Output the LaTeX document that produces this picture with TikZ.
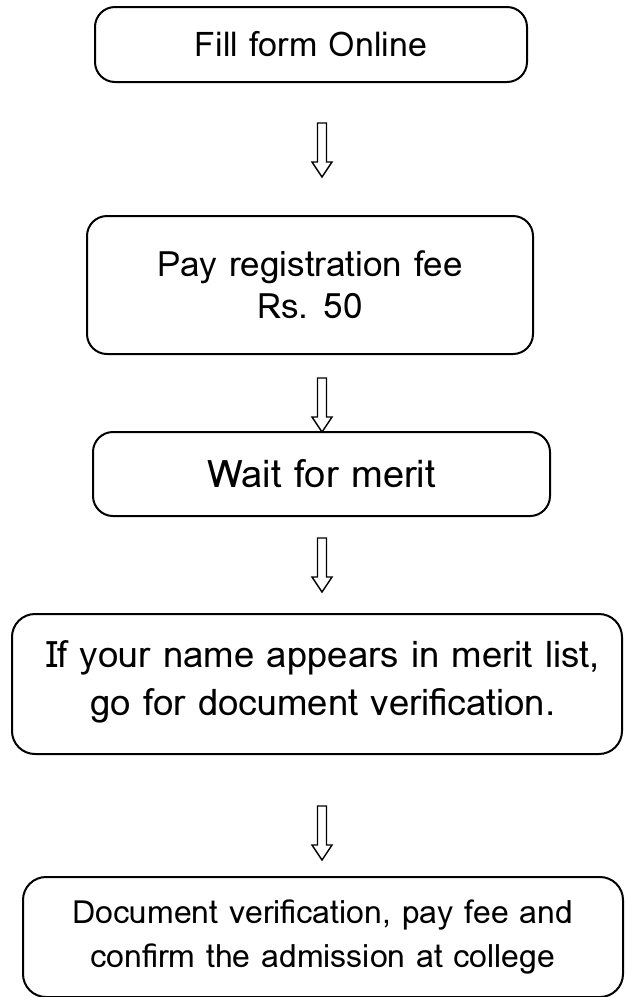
\documentclass[tikz,border=0pt]{standalone}
\usepackage{fontspec}
\setmainfont{Loma}
\begin{document}
\begin{tikzpicture}[x=1pt,y=-1pt,
  stepbox/.style={draw=black, line width=2pt, rounded corners=20pt, inner sep=0pt, align=center, anchor=center},
  steptext/.style={inner sep=0pt, align=center, anchor=center},
  hollowarrow/.pic={\draw[line width=1.4pt, line join=miter] (-4.5,0) -- (4.5,0) -- (4.5,39) -- (10,39) -- (0,54) -- (-10,39) -- (-4.5,39) -- cycle;}
]
\useasboundingbox (0,0) rectangle (625,997);
\node[stepbox, minimum width=432pt, minimum height=75pt, font=\fontsize{34}{40}\selectfont] (b1) at (311,44.5) {Fill form Online};
\node[stepbox, minimum width=446pt, minimum height=138pt, font=\fontsize{35}{42}\selectfont] (b2) at (310,285) {Pay registration fee\\Rs. 50};
\node[stepbox, minimum width=457pt, minimum height=84pt, font=\fontsize{38}{40}\selectfont] (b3) at (321.5,474) {Wait for merit};
\node[stepbox, rounded corners=23pt, minimum width=610pt, minimum height=140pt] (b4) at (317,684) {};
\node[steptext, font=\fontsize{36.5}{48}\selectfont] (t4) at ([xshift=6pt,yshift=2pt]b4.center) {If your name appears in merit list,\\go for document verification.};
\node[stepbox, rounded corners=23pt, minimum width=600pt, minimum height=120pt, font=\fontsize{32}{44}\selectfont] (b5) at (323,937) {Document verification, pay fee and\\confirm the admission at college};
\coordinate (a1) at (322,123);
\coordinate (a2) at (322,378);
\coordinate (a3) at (322,538);
\coordinate (a4) at (322,806);
\pic at (a1) {hollowarrow};
\pic at (a2) {hollowarrow};
\pic at (a3) {hollowarrow};
\pic at (a4) {hollowarrow};
\end{tikzpicture}
\end{document}
